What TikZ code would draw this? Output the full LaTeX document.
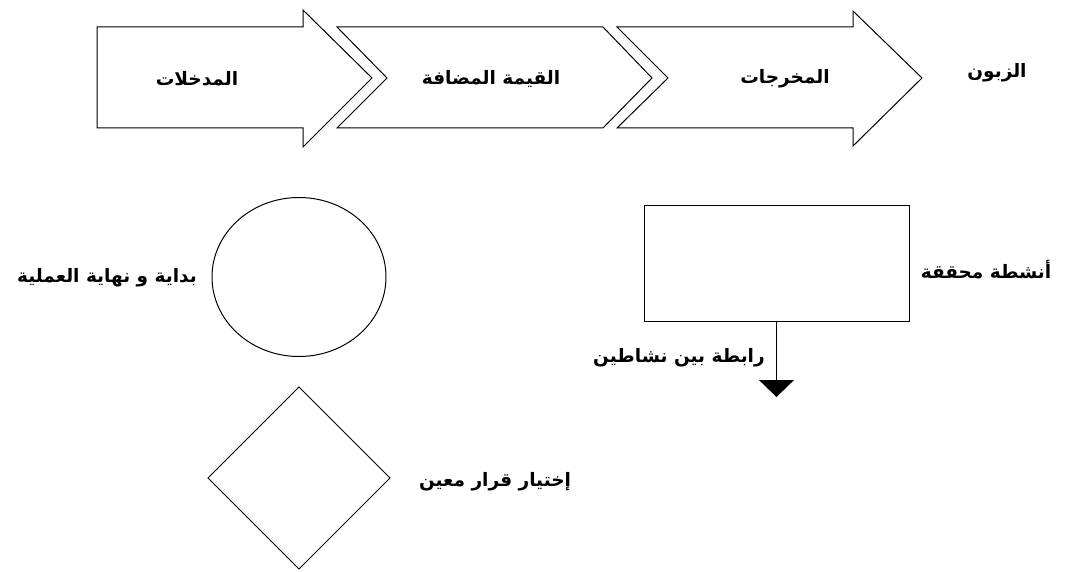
\documentclass[tikz,border=0pt]{standalone}
\usepackage{fontspec}
\TeXXeTstate=1
\newfontfamily\arabicfont[Script=Arabic]{DejaVu Sans}
\usetikzlibrary{shapes.geometric,arrows.meta}
\begin{document}
\begin{tikzpicture}[x=1pt,y=-1pt,
  shapeline/.style={draw=black, line width=1pt, fill=white, line join=miter},
  lbl/.style={font=\arabicfont\bfseries\fontsize{18.5}{20}\selectfont, inner sep=0pt},
  symb/.style={draw=black, line width=1pt, inner sep=0pt, outer sep=0pt}]
\useasboundingbox (0,0) rectangle (1070,572);
% process arrows
\draw[shapeline] (97,27) -- (303,27) -- (303,10) -- (372,78) -- (303,147) -- (303,128) -- (97,128) -- cycle;
\draw[shapeline] (337,27) -- (603,27) -- (652,78) -- (603,128) -- (337,128) -- (387,78) -- cycle;
\draw[shapeline] (617,27) -- (853,27) -- (853,11) -- (922,78) -- (853,146) -- (853,128) -- (617,128) -- (668,78) -- cycle;
\node[lbl] (in) at (197,79) {\beginR المدخلات\endR};
\node[lbl] (va) at (491,79) {\beginR القيمة المضافة\endR};
\node[lbl] (out) at (785,79) {\beginR المخرجات\endR};
\node[lbl] (cust) at (997,73) {\beginR الزبون\endR};
% legend symbols
\node[symb, ellipse, minimum width=174pt, minimum height=159pt] (startend) at (299,277) {};
\node[lbl] (startendlbl) at (107,278) {\beginR بداية و نهاية العملية\endR};
\node[symb, diamond, minimum width=182pt, minimum height=182pt] (decision) at (299,478) {};
\node[lbl] (decisionlbl) at (495,482) {\beginR إختيار قرار معين\endR};
\node[symb, rectangle, minimum width=265pt, minimum height=116pt] (act) at (776.5,263) {};
\node[lbl] (actlbl) at (986,270) {\beginR أنشطة محققة\endR};
\coordinate (tip) at ([yshift=-76pt]act.south);
\draw[line width=1pt, -{Triangle[width=35pt,length=17pt]}] (act.south) -- (tip);
\node[lbl] (linklbl) at (679,358) {\beginR رابطة بين نشاطين\endR};
\end{tikzpicture}
\end{document}
